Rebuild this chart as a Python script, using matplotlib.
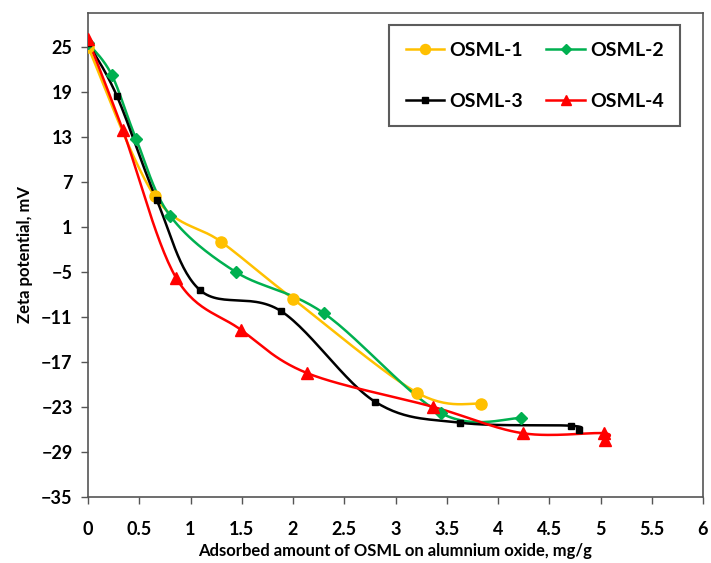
import numpy as np
import matplotlib
matplotlib.use("Agg")
import matplotlib.pyplot as plt
from matplotlib.lines import Line2D

plt.rcParams['font.family'] = ['Lato', 'DejaVu Sans']

# data
osml1_x = [0, 0.65, 1.30, 2.00, 3.21, 3.83]
osml1_y = [25, 5.1, -1.0, -8.6, -21.1, -22.6]

osml2_x = [0, 0.23, 0.47, 0.80, 1.44, 2.30, 3.44, 4.22]
osml2_y = [25.5, 21.3, 12.7, 2.5, -5.0, -10.5, -23.8, -24.5]

osml3_x = [0, 0.28, 0.67, 1.09, 1.88, 2.80, 3.63, 4.71, 4.79]
osml3_y = [25.5, 18.5, 4.6, -7.4, -10.2, -22.3, -25.1, -25.5, -26.1]

osml4_x = [0, 0.34, 0.86, 1.49, 2.14, 3.37, 4.24, 5.03, 5.04]
osml4_y = [26, 13.9, -5.8, -12.7, -18.5, -23.0, -26.5, -26.5, -27.4]

x_ticks = [0, 0.5, 1, 1.5, 2, 2.5, 3, 3.5, 4, 4.5, 5, 5.5, 6]
y_ticks = [25, 19, 13, 7, 1, -5, -11, -17, -23, -29, -35]


def smooth(xs, ys, n=30):
    # excel-style smoothed line (bezier through the points)
    p = np.column_stack([xs, ys]).astype(float)
    p_ext = np.vstack([p[0], p, p[-1]])
    t = np.linspace(0, 1, n)[:, None]
    out = []
    for i in range(len(p) - 1):
        p0, p1, p2, p3 = p_ext[i], p_ext[i + 1], p_ext[i + 2], p_ext[i + 3]
        b1 = p1 + (p2 - p0) / 6
        b2 = p2 - (p3 - p1) / 6
        seg = ((1 - t) ** 3) * p1 + 3 * ((1 - t) ** 2) * t * b1 + 3 * (1 - t) * t ** 2 * b2 + t ** 3 * p2
        out.append(seg)
    out = np.vstack(out)
    return out[:, 0], out[:, 1]


series = [
    ('OSML-1', osml1_x, osml1_y, '#FFC000', 'o', 8),
    ('OSML-2', osml2_x, osml2_y, '#00B050', 'D', 6),
    ('OSML-3', osml3_x, osml3_y, '#000000', 's', 4.5),
    ('OSML-4', osml4_x, osml4_y, '#FF0000', '^', 8),
]

fig = plt.figure(figsize=(7.11, 5.63), dpi=100)
ax = fig.add_axes([88 / 711, 1 - 497 / 563, (703 - 88) / 711, (497 - 13) / 563])

handles = {}
for name, xs, ys, col, mk, ms in series:
    sx, sy = smooth(xs, ys)
    ax.plot(sx, sy, color=col, linewidth=1.8, zorder=2)
    ax.plot(xs, ys, linestyle='none', marker=mk, markersize=ms, color=col, zorder=3)
    handles[name] = Line2D([], [], color=col, linewidth=1.8, marker=mk, markersize=ms * 0.9, label=name)

ax.set_xlim(0, 6)
ax.set_ylim(-35, 29.5)
ax.set_xticks(x_ticks)
ax.set_xticklabels([f'{v:g}' for v in x_ticks])
ax.set_yticks(y_ticks)
ax.tick_params(axis='both', direction='out', length=5, width=1, color='#555555',
               labelsize=13, pad=6)
for lab in ax.get_xticklabels() + ax.get_yticklabels():
    lab.set_fontweight('bold')
ax.tick_params(axis='x', pad=12)
for sp in ax.spines.values():
    sp.set_color('#555555')
    sp.set_linewidth(1.2)

ax.set_xlabel('Adsorbed amount of OSML on alumnium oxide, mg/g', fontsize=12,
              fontweight='bold', labelpad=4)
ax.set_ylabel('Zeta potential, mV', fontsize=12, fontweight='bold', labelpad=6)

# legend: two rows (1, 2 / 3, 4), filled column by column
order = ['OSML-1', 'OSML-3', 'OSML-2', 'OSML-4']
leg = ax.legend(handles=[handles[k] for k in order], ncol=2, loc='upper left',
                bbox_to_anchor=((389 - 88) / 615, 1 - (25 - 13) / 484),
                borderaxespad=0, fancybox=False, frameon=True,
                prop={'weight': 'bold', 'size': 14}, handlelength=2.0, handletextpad=0.25,
                columnspacing=1.2, labelspacing=1.75, borderpad=0.85)
leg.get_frame().set_edgecolor('#333333')
leg.get_frame().set_linewidth(1.5)

fig.savefig('out.png', dpi=100)
